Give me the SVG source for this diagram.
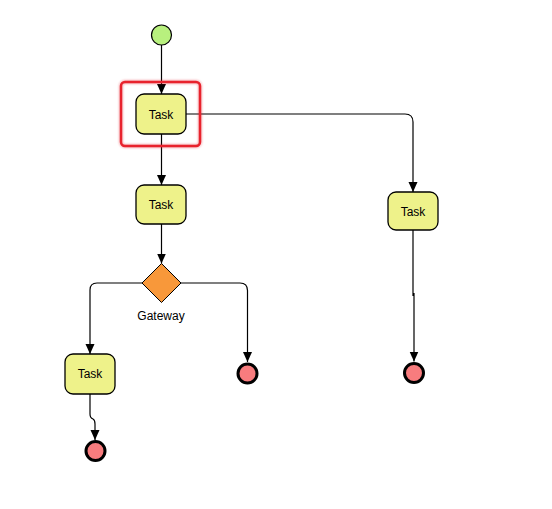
<svg xmlns="http://www.w3.org/2000/svg" width="552" height="509" viewBox="0 0 552 509">
<defs>
<style>
.task rect{fill:#eef28a;stroke:#000;stroke-width:1.3}
.lbl{font-family:"Liberation Sans",Arial,sans-serif;font-size:12px;fill:#000;text-anchor:middle}
.end circle{fill:#f87c7e;stroke:#000;stroke-width:3}
.conn path{fill:none;stroke:#000;stroke-width:1.2}
</style>
<marker id="arr" markerUnits="userSpaceOnUse" markerWidth="10" markerHeight="10" refX="10" refY="5" orient="auto" viewBox="0 0 10 10">
<path d="M0,0.5 L10,5 L0,9.5 z" fill="#000"/>
</marker>
<filter id="glow" x="-20%" y="-20%" width="140%" height="140%">
<feGaussianBlur stdDeviation="1.2"/>
</filter>
</defs>
<rect width="552" height="509" fill="#fff"/>
<g class="conn">
<path d="M161.5,45 L161.5,94" marker-end="url(#arr)"/>
<path d="M161.5,134 L161.5,185" marker-end="url(#arr)"/>
<path d="M161.5,224 L161.5,263.5" marker-end="url(#arr)"/>
<path d="M142,283 L97,283 Q90,283 90,290 L90,354" marker-end="url(#arr)"/>
<path d="M181,283 L240,283 Q247.5,283 247.5,290.5 L247.5,362" marker-end="url(#arr)"/>
<path d="M186,114 L405,114 Q413,114 413,122 L413,192" marker-end="url(#arr)"/>
<path d="M413,230 L413,296 M414,293 L414,361.5" marker-end="url(#arr)"/>
<path d="M90,394 L90,414 Q90,418 93,419 Q95,420 95,424 L95,440" marker-end="url(#arr)"/>
</g>
<g id="start">
<circle cx="161.5" cy="35" r="10" fill="#b8f07e" stroke="#000" stroke-width="1.2"/>
</g>
<g id="selection">
<rect x="121" y="82" width="79" height="64" rx="4" fill="none" stroke="#e8232d" stroke-width="4" opacity="0.35" filter="url(#glow)"/>
<rect x="121" y="82" width="79" height="64" rx="4" fill="none" stroke="#e8232d" stroke-width="2.5"/>
</g>
<g id="task1" class="task">
<rect x="136" y="94" width="50" height="40" rx="8"/>
<text class="lbl" x="161" y="118.5">Task</text>
</g>
<g id="task2" class="task">
<rect x="136" y="185" width="50" height="39" rx="8"/>
<text class="lbl" x="161" y="209">Task</text>
</g>
<g id="gateway">
<path d="M161.5,263.5 L181,283 L161.5,302.5 L142,283 z" fill="#f8983a" stroke="#000" stroke-width="1"/>
<text class="lbl" x="161" y="320">Gateway</text>
</g>
<g id="task3" class="task">
<rect x="65" y="354" width="50" height="40" rx="8"/>
<text class="lbl" x="90" y="378">Task</text>
</g>
<g id="task4" class="task">
<rect x="388" y="192" width="50" height="38" rx="8"/>
<text class="lbl" x="413" y="215.5">Task</text>
</g>
<g id="end1" class="end"><circle cx="247.5" cy="373.5" r="9.5"/></g>
<g id="end2" class="end"><circle cx="414" cy="373" r="9.5"/></g>
<g id="end3" class="end"><circle cx="95.5" cy="451" r="9.5"/></g>
</svg>
